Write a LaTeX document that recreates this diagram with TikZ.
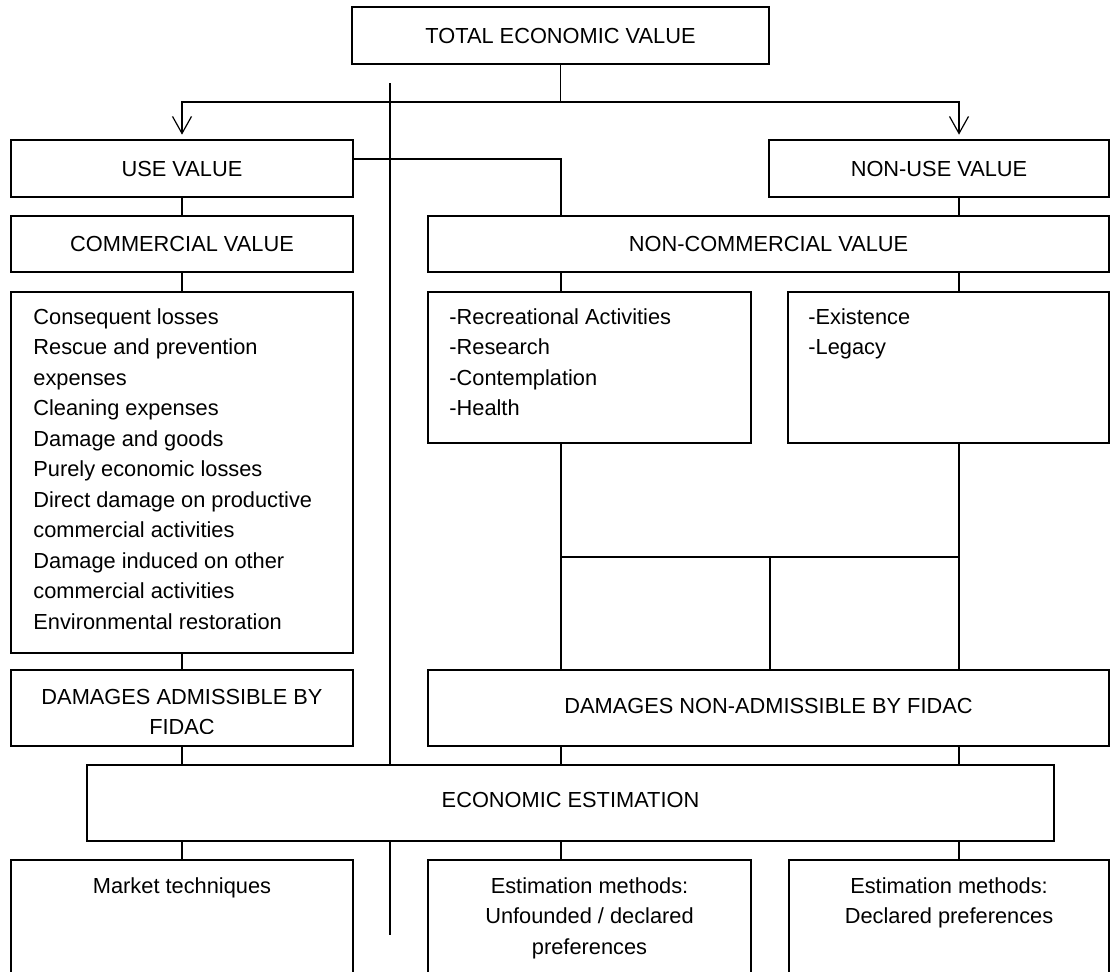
\documentclass[tikz,border=0pt]{standalone}
\usepackage{fontspec}
\setmainfont{Liberation Sans}
\usetikzlibrary{arrows.meta,fit}
\begin{document}
\begin{tikzpicture}[x=0.5pt,y=-0.5pt,
  every node/.style={font=\fontsize{10.9pt}{15.25pt}\selectfont},
  box/.style={draw, line width=0.75pt, inner sep=0pt, rectangle},
  conn/.style={line width=0.6pt},
  arr/.style={conn, -{Straight Barb[length=8.5pt,width=9.5pt]}, shorten >=2.3pt},
  lst/.style={inner sep=0pt, anchor=north west, align=left},
  ctxt/.style={inner sep=0pt, anchor=north, align=center},
]
\useasboundingbox (0,0) rectangle (1111,971);
\clip (0,0) rectangle (1111,971);

% column coordinates
\coordinate (cM) at (561,0);
\coordinate (cR) at (959,0);
\coordinate (cMid) at (770,0);
\coordinate (split) at (560.5,102);
\coordinate (ujoin) at (353,159);
\coordinate (hj) at (0,557);
\coordinate (vtop) at (390,83);
\coordinate (vbot) at (390,935);

% boxes
\node[box, fit={(352,7) (769,64)}, label={[inner sep=0pt]center:TOTAL ECONOMIC VALUE}] (tev) {};
\node[box, fit={(11,140) (353,197)}, label={[inner sep=0pt]center:USE VALUE}] (use) {};
\node[box, fit={(769,140) (1109,197)}, label={[inner sep=0pt]center:NON-USE VALUE}] (nonuse) {};
\node[box, fit={(11,216) (353,272)}, label={[inner sep=0pt]center:COMMERCIAL VALUE}] (comm) {};
\node[box, fit={(428,216) (1109,272)}, label={[inner sep=0pt]center:NON-COMMERCIAL VALUE}] (noncomm) {};
\node[box, fit={(11,292) (353,653)}] (lossbox) {};
\node[box, fit={(428,292) (751,443)}] (rec) {};
\node[box, fit={(788,292) (1109,443)}] (exist) {};
\node[box, fit={(11,670) (353,746)}] (adm) {};
\node[box, fit={(428,670) (1109,746)}, label={[inner sep=0pt, yshift=1pt]center:DAMAGES NON-ADMISSIBLE BY FIDAC}] (nonadm) {};
\node[box, fit={(87,765) (1054,841)}, label={[inner sep=0pt, yshift=1.5pt]center:ECONOMIC ESTIMATION}] (econ) {};
\node[box, fit={(11,860) (353,990)}] (market) {};
\node[box, fit={(428,860) (751,990)}] (methA) {};
\node[box, fit={(789,860) (1109,990)}] (methB) {};

% box texts
\node[lst] (losstxt) at (33,304) {\rule{0pt}{10pt}Consequent losses\\Rescue and prevention\\expenses\\Cleaning expenses\\Damage and goods\\Purely economic losses\\Direct damage on productive\\commercial activities\\Damage induced on other\\commercial activities\\Environmental restoration};
\node[lst] (rectxt) at (449,304) {\rule{0pt}{10pt}-Recreational Activities\\-Research\\-Contemplation\\-Health};
\node[lst] (existtxt) at (808,304) {\rule{0pt}{10pt}-Existence\\-Legacy};
\begin{scope}
\clip (11,670) rectangle (353,733);
\node[ctxt] (admtxt) at (182,684) {\rule{0pt}{10pt}DAMAGES ADMISSIBLE BY\\FIDAC};
\end{scope}
\node[ctxt] (markettxt) at (182,873) {\rule{0pt}{10pt}Market techniques};
\node[ctxt] (methAtxt) at (589.5,873) {\rule{0pt}{10pt}Estimation methods:\\Unfounded / declared\\preferences};
\node[ctxt] (methBtxt) at (949,873) {\rule{0pt}{10pt}Estimation methods:\\Declared preferences};

% connectors
\draw[conn] (tev.south) -- (tev.south |- split);
\draw[arr] (tev.south |- split) -| (use.north);
\draw[arr] (tev.south |- split) -| (nonuse.north -| cR);
\draw[conn] (vtop) -- (econ.north -| vtop);
\draw[conn] (econ.south -| vbot) -- (vbot);
\draw[conn] (use.east |- ujoin) -| (noncomm.north -| cM);
\draw[conn] (use.south) -- (comm.north);
\draw[conn] (comm.south) -- (lossbox.north);
\draw[conn] (lossbox.south) -- (adm.north);
\draw[conn] (adm.south) -- (econ.north -| adm.south);
\draw[conn] (econ.south -| market.north) -- (market.north);
\draw[conn] (nonuse.south -| cR) -- (noncomm.north -| cR);
\draw[conn] (noncomm.south -| cM) -- (rec.north -| cM);
\draw[conn] (noncomm.south -| cR) -- (exist.north -| cR);
\draw[conn] (rec.south -| cM) -- (nonadm.north -| cM);
\draw[conn] (exist.south -| cR) -- (nonadm.north -| cR);
\draw[conn] (hj -| cM) -- (hj -| cR);
\draw[conn] (hj -| cMid) -- (nonadm.north -| cMid);
\draw[conn] (nonadm.south -| cM) -- (econ.north -| cM);
\draw[conn] (nonadm.south -| cR) -- (econ.north -| cR);
\draw[conn] (econ.south -| cM) -- (methA.north -| cM);
\draw[conn] (econ.south -| cR) -- (methB.north -| cR);
\end{tikzpicture}
\end{document}
